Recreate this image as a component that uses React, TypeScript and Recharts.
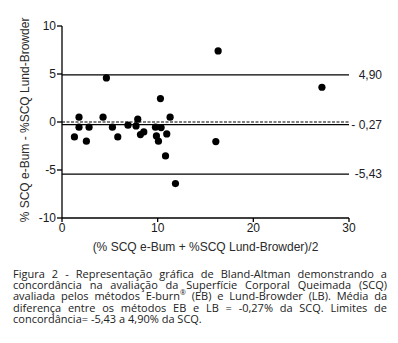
import {
  ScatterChart,
  Scatter,
  XAxis,
  YAxis,
  ReferenceLine,
} from "recharts";

// Bland-Altman: mean of the two methods (x) vs difference (y)
const meanValues = [
  1.3, 1.78, 1.78, 2.55, 2.83, 4.64, 4.29, 5.27, 5.83, 6.9, 7.74, 7.92, 8.2, 8.55,
  9.77, 9.87, 10.08, 10.29, 10.36, 10.95, 10.82, 11.3, 11.86, 16.32, 16.08, 27.17,
];
const diffValues = [
  -1.55, 0.5, -0.54, -2.0, -0.54, 4.59, 0.5, -0.54, -1.55, -0.33, -0.41, 0.29, -1.31, -1.03,
  -0.54, -1.45, -2.0, 2.44, -0.58, -1.24, -3.53, 0.5, -6.41, 7.4, -2.04, 3.62,
];

const upperLimit = 4.9;
const bias = -0.27;
const lowerLimit = -5.43;
const limitLabels = ["4,90", "- 0,27", "-5,43"];

const xTicks = [0, 10, 20, 30];
const yTicks = [-10, -5, 0, 5, 10];

const captionLines = [
  "Figura 2 - Representação gráfica de Bland-Altman demonstrando a",
  "concordância na avaliação da Superfície Corporal Queimada (SCQ)",
  "avaliada pelos métodos E-burn® (EB) e Lund-Browder (LB). Média da",
  "diferença entre os métodos EB e LB = -0,27% da SCQ. Limites de",
  "concordância= -5,43 a 4,90% da SCQ.",
];

const points = meanValues.map((m, i) => ({ mean: m, diff: diffValues[i] }));

const FONT = "'Liberation Sans', Arial, sans-serif";
const INK = "#1a1a1a";

const rightLabel = (text: string) => (props: any) => {
  const { viewBox } = props;
  if (!viewBox) return null;
  return (
    <text
      x={viewBox.x + viewBox.width + 33}
      y={viewBox.y + 4}
      textAnchor="end"
      fontSize={12}
      fontFamily={FONT}
      fill="#1c1c2a"
    >
      {text}
    </text>
  );
};

const Dot = (props: any) => (
  <circle cx={props.cx} cy={props.cy} r={3.6} fill="#000" />
);

const renderCaptionLine = (line: string) => {
  const parts = line.split("®");
  if (parts.length === 1) return line;
  return (
    <>
      {parts[0]}
      <sup style={{ fontSize: 7, lineHeight: 0 }}>®</sup>
      {parts[1]}
    </>
  );
};

export default function App() {
  return (
    <div
      style={{
        position: "absolute",
        left: 0,
        top: 0,
        width: 398,
        height: 343,
        background: "#fff",
        overflow: "hidden",
      }}
    >
      <ScatterChart
        width={398}
        height={256}
        margin={{ top: 26, right: 49, bottom: 0, left: 0 }}
      >
        <XAxis
          type="number"
          dataKey="mean"
          domain={[0, 30]}
          ticks={xTicks}
          allowDataOverflow
          height={38}
          stroke="#000"
          strokeWidth={1.3}
          tickSize={4}
          tickMargin={1}
          tick={{ fontSize: 12, fill: INK, fontFamily: FONT }}
          label={(props: any) => {
            const vb = props.viewBox;
            if (!vb) return null;
            return (
              <text
                x={vb.x + vb.width / 2}
                y={vb.y + 33}
                textAnchor="middle"
                fontSize={12}
                fontFamily={FONT}
                fill="#2a2a2a"
              >
                (% SCQ e-Bum + %SCQ Lund-Browder)/2
              </text>
            );
          }}
        />
        <YAxis
          type="number"
          dataKey="diff"
          domain={[-10, 10]}
          ticks={yTicks}
          allowDataOverflow
          width={62}
          stroke="#000"
          strokeWidth={1.3}
          tickSize={5}
          tickMargin={1}
          tick={{ fontSize: 12, fill: INK, fontFamily: FONT }}
          label={(props: any) => {
            const vb = props.viewBox;
            if (!vb) return null;
            const cx = vb.x + 25;
            const cy = vb.y + vb.height / 2 - 2;
            return (
              <text
                x={cx}
                y={cy}
                transform={`rotate(-90, ${cx}, ${cy})`}
                textAnchor="middle"
                dominantBaseline="central"
                fontSize={12}
                fontFamily={FONT}
                fill="#2a2a2a"
              >
                % SCQ e-Bum - %SCQ Lund-Browder
              </text>
            );
          }}
        />
        <ReferenceLine
          y={upperLimit}
          stroke="#000"
          strokeWidth={1.3}
          label={rightLabel(limitLabels[0])}
        />
        <ReferenceLine y={0} stroke="#000" strokeWidth={1.2} strokeDasharray="3 1.5" />
        <ReferenceLine
          y={bias}
          stroke="#000"
          strokeWidth={1.3}
          label={rightLabel(limitLabels[1])}
        />
        <ReferenceLine
          y={lowerLimit}
          stroke="#000"
          strokeWidth={1.3}
          label={rightLabel(limitLabels[2])}
        />
        <Scatter data={points} shape={Dot} isAnimationActive={false} />
      </ScatterChart>
      <div
        style={{
          position: "absolute",
          left: 13,
          top: 268,
          width: 374,
          fontFamily: "'Open Sans', sans-serif",
          fontSize: 11,
          lineHeight: "11.2px",
          color: "#222",
        }}
      >
        {captionLines.map((line, i) => (
          <div
            key={i}
            style={{
              textAlign: "justify",
              textAlignLast: i < captionLines.length - 1 ? "justify" : "left",
              whiteSpace: "nowrap",
            }}
          >
            {renderCaptionLine(line)}
          </div>
        ))}
      </div>
    </div>
  );
}
